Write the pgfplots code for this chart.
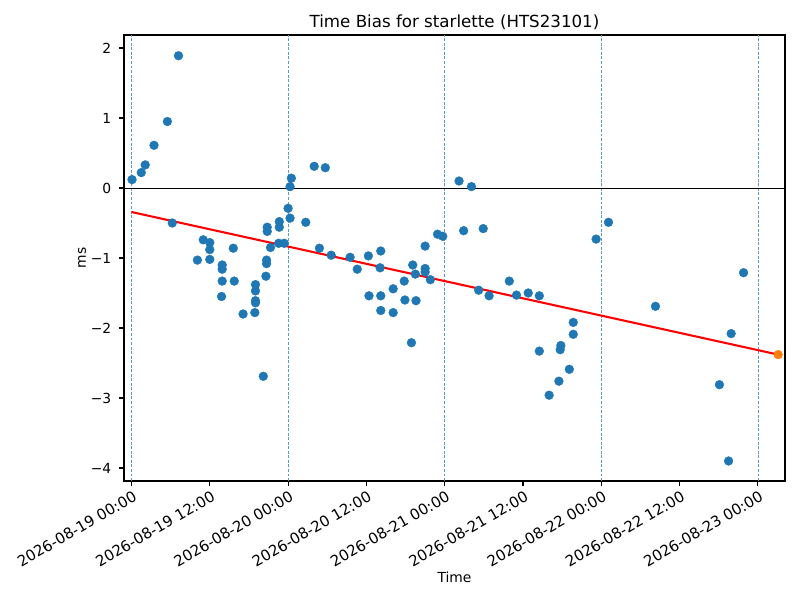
\documentclass[border=0pt]{standalone}
\usepackage{fontspec}
\setmainfont{DejaVu Sans}
\usepackage{pgfplots}
\pgfplotsset{compat=1.18}
\definecolor{C0}{HTML}{1F77B4}
\definecolor{C1}{HTML}{FF7F0E}
\begin{document}
\fontsize{10.4pt}{12pt}\selectfont
\begin{tikzpicture}
\path[use as bounding box] (-93pt,-89.25pt) rectangle (507pt,360.75pt);
\begin{axis}[
  at={(0,0)}, anchor=south west,
  scale only axis,
  width=495.75pt, height=334.5pt,
  xmin=-1.15, xmax=100.15,
  ymin=-4.186, ymax=2.186,
  axis line style={line width=0.83pt},
  tick style={line width=0.83pt, black},
  tick align=outside,
  major tick length=3.65pt,
  xtick pos=bottom, ytick pos=left,
  xtick={0,12,24,36,48,60,72,84,96},
  xticklabels={2026-08-19 00:00,2026-08-19 12:00,2026-08-20 00:00,2026-08-20 12:00,2026-08-21 00:00,2026-08-21 12:00,2026-08-22 00:00,2026-08-22 12:00,2026-08-23 00:00},
  xticklabel style={rotate=30, anchor=north east, font=\fontsize{11.2pt}{12pt}\selectfont, inner sep=1pt, yshift=-2pt},
  ytick={-4,-3,-2,-1,0,1,2},
  yticklabels={−4,−3,−2,−1,0,1,2},
  yticklabel style={font=\fontsize{10.4pt}{12pt}\selectfont, xshift=-2.25pt},
  title={Time Bias for starlette (HTS23101)},
  title style={font=\fontsize{12.5pt}{14pt}\selectfont, at={([yshift=3.75pt]axis description cs:0.5,1)}, anchor=center},
  xlabel={Time},
  ylabel={ms},
  label style={font=\fontsize{10.4pt}{12pt}\selectfont},
  xlabel style={at={([yshift=-72pt]axis description cs:0.5,0)}, anchor=center},
  ylabel style={at={([xshift=-31.5pt]axis description cs:0,0.5)}, anchor=center},
  clip=true,
]
% day separators
\addplot[C0!75, line width=0.4pt, dash pattern=on 2.2pt off 1.2pt] coordinates {(0,-4.186) (0,2.186)};
\addplot[C0!75, line width=0.4pt, dash pattern=on 2.2pt off 1.2pt] coordinates {(24,-4.186) (24,2.186)};
\addplot[C0!75, line width=0.4pt, dash pattern=on 2.2pt off 1.2pt] coordinates {(48,-4.186) (48,2.186)};
\addplot[C0!75, line width=0.4pt, dash pattern=on 2.2pt off 1.2pt] coordinates {(72,-4.186) (72,2.186)};
\addplot[C0!75, line width=0.4pt, dash pattern=on 2.2pt off 1.2pt] coordinates {(96,-4.186) (96,2.186)};
% zero line
\addplot[black, line width=0.75pt] coordinates {(-1.15,0) (100.15,0)};
% measurements
\addplot[only marks, mark=*, mark size=3.3pt, color=C0, mark options={fill=C0, draw=C0, line width=0.3pt}] table {
x y
0.08 0.12
1.5 0.22
2.1 0.33
3.45 0.61
5.5 0.95
7.2 1.89
6.25 -0.50
10.1 -1.03
11.0 -0.74
12.0 -0.78
12.0 -0.88
12.0 -1.02
13.9 -1.10
13.9 -1.16
13.9 -1.33
13.8 -1.55
15.6 -0.86
15.75 -1.33
17.1 -1.80
19.0 -1.38
19.0 -1.47
19.0 -1.61
19.0 -1.64
18.9 -1.78
20.2 -2.69
20.8 -0.56
20.8 -0.62
20.7 -1.03
20.7 -1.08
20.6 -1.26
21.3 -0.85
22.65 -0.48
22.65 -0.56
22.55 -0.79
23.4 -0.79
24.0 -0.29
24.3 -0.43
24.3 0.02
24.5 0.14
26.7 -0.49
28.0 0.31
29.7 0.29
28.8 -0.86
30.6 -0.96
33.5 -0.99
34.6 -1.16
36.3 -0.97
38.2 -0.90
38.1 -1.14
36.4 -1.54
38.2 -1.54
38.2 -1.75
40.1 -1.44
40.1 -1.78
41.9 -1.60
41.8 -1.33
43.1 -1.10
43.5 -1.23
43.6 -1.61
42.9 -2.21
45.0 -0.83
45.0 -1.15
45.0 -1.20
45.8 -1.31
46.9 -0.66
47.7 -0.69
50.2 0.10
52.1 0.02
50.9 -0.61
53.9 -0.58
53.2 -1.46
54.8 -1.54
57.9 -1.33
59.0 -1.53
60.8 -1.50
62.5 -1.54
62.5 -2.33
64.0 -2.96
65.5 -2.76
65.8 -2.25
65.7 -2.31
67.1 -2.59
67.7 -1.92
67.7 -2.09
71.2 -0.73
73.1 -0.49
80.3 -1.69
90.1 -2.81
91.5 -3.90
91.9 -2.08
93.8 -1.21
};
% trend
\addplot[red, line width=1.56pt] coordinates {(0,-0.343) (99.1,-2.38)};
% prediction
\addplot[only marks, mark=*, mark size=3.3pt, color=C1, mark options={fill=C1, draw=C1, line width=0.3pt}] coordinates {(99.1,-2.38)};
\end{axis}
\end{tikzpicture}
\end{document}
